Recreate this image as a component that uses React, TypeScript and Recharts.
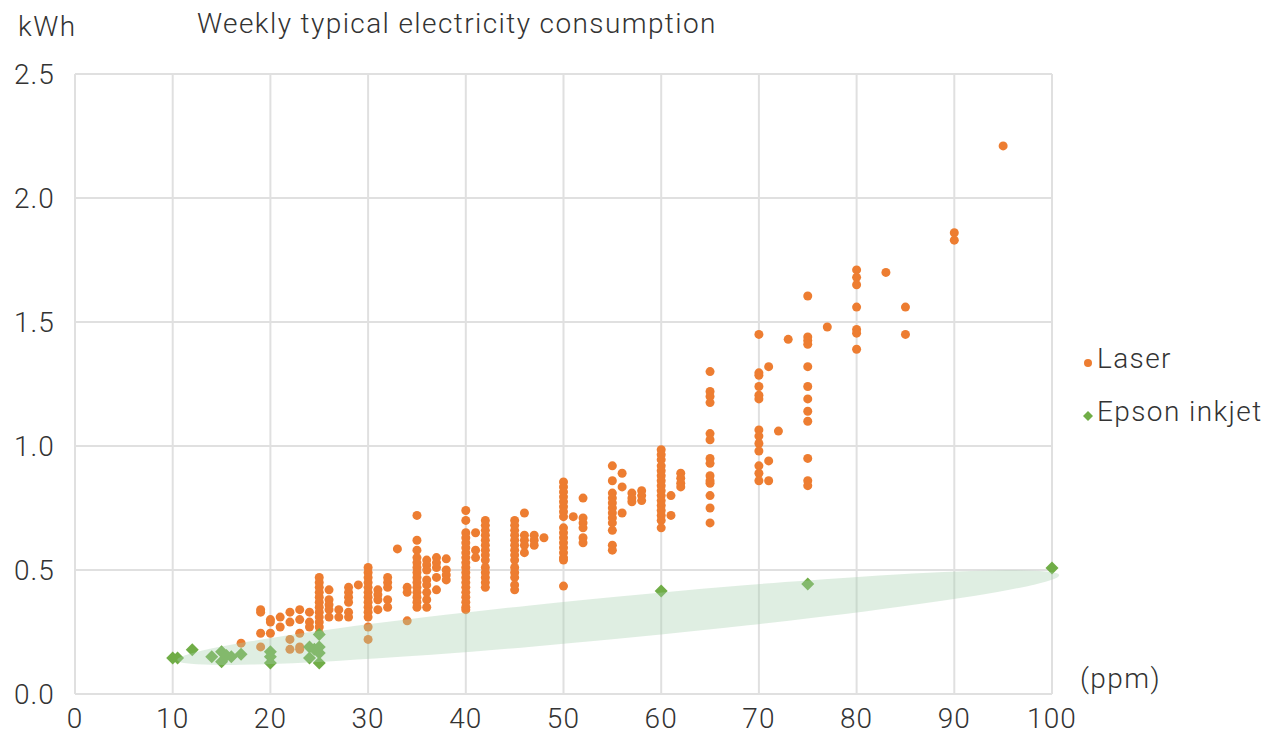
import { ScatterChart, Scatter, XAxis, YAxis, CartesianGrid } from 'recharts'

const FONT = 'Roboto, "Liberation Sans", sans-serif'

const xTicks = [0, 10, 20, 30, 40, 50, 60, 70, 80, 90, 100]
const yTicks = [0, 0.5, 1.0, 1.5, 2.0, 2.5]

// laser printers: [ppm, kWh values at that speed]
const laserLow: [number, number[]][] = [
  [17, [0.205]],
  [19, [0.34, 0.33, 0.245, 0.19]],
  [20, [0.3, 0.29, 0.245]],
  [21, [0.31, 0.27]],
  [22, [0.33, 0.29, 0.22, 0.18]],
  [23, [0.34, 0.3, 0.245, 0.19, 0.18]],
  [24, [0.33, 0.29, 0.27]],
  [25, [0.47, 0.45, 0.43, 0.41, 0.39, 0.37, 0.35, 0.33, 0.31, 0.29, 0.27, 0.245]],
  [26, [0.42, 0.38, 0.36, 0.34, 0.31]],
  [27, [0.34, 0.31]],
  [28, [0.43, 0.41, 0.39, 0.37, 0.33, 0.31]],
  [29, [0.44]],
  [30, [0.51, 0.49, 0.47, 0.45, 0.43, 0.41, 0.39, 0.37, 0.35, 0.33, 0.31, 0.27, 0.22]],
  [31, [0.42, 0.4, 0.38, 0.34]],
  [32, [0.47, 0.45, 0.43, 0.38, 0.35]],
  [33, [0.585]],
  [34, [0.43, 0.41, 0.295]],
  [35, [0.72, 0.62, 0.58, 0.55, 0.53, 0.51, 0.49, 0.47, 0.45, 0.43, 0.41, 0.39, 0.37, 0.35]],
  [36, [0.54, 0.52, 0.5, 0.46, 0.44, 0.41, 0.38, 0.35]],
  [37, [0.55, 0.53, 0.51, 0.47, 0.42]],
  [38, [0.545, 0.5, 0.48, 0.46]],
]

const laserMid: [number, number[]][] = [
  [40, [0.74, 0.7, 0.65, 0.63, 0.61, 0.59, 0.57, 0.55, 0.53, 0.51, 0.49, 0.47, 0.45, 0.43, 0.41, 0.39, 0.37, 0.35, 0.34]],
  [41, [0.65, 0.58, 0.55]],
  [42, [0.7, 0.68, 0.66, 0.64, 0.62, 0.6, 0.58, 0.56, 0.54, 0.51, 0.49, 0.47, 0.45, 0.43]],
  [45, [0.7, 0.68, 0.66, 0.64, 0.62, 0.6, 0.58, 0.56, 0.54, 0.51, 0.49, 0.47, 0.44, 0.42]],
  [46, [0.73, 0.64, 0.62, 0.6, 0.57]],
  [47, [0.64, 0.62, 0.6]],
  [48, [0.63]],
  [50, [0.855, 0.835, 0.815, 0.795, 0.775, 0.755, 0.735, 0.715, 0.67, 0.65, 0.63, 0.61, 0.59, 0.57, 0.55, 0.54, 0.435]],
  [51, [0.715]],
  [52, [0.79, 0.71, 0.69, 0.67, 0.63, 0.61]],
  [55, [0.92, 0.86, 0.81, 0.79, 0.77, 0.75, 0.73, 0.71, 0.69, 0.66, 0.6, 0.58]],
  [56, [0.89, 0.835, 0.73]],
  [57, [0.81, 0.79, 0.775]],
  [58, [0.82, 0.8, 0.78]],
  [60, [0.985, 0.965, 0.945, 0.92, 0.9, 0.88, 0.86, 0.84, 0.82, 0.8, 0.78, 0.76, 0.74, 0.72, 0.7, 0.67]],
  [61, [0.8, 0.72]],
  [62, [0.89, 0.87, 0.85, 0.835]],
]

const laserHigh: [number, number[]][] = [
  [65, [1.3, 1.22, 1.2, 1.175, 1.05, 1.025, 0.95, 0.93, 0.88, 0.86, 0.85, 0.8, 0.75, 0.69]],
  [70, [1.45, 1.295, 1.285, 1.24, 1.205, 1.19, 1.065, 1.04, 1.01, 0.98, 0.92, 0.89, 0.86]],
  [71, [1.32, 0.94, 0.86]],
  [72, [1.06]],
  [73, [1.43]],
  [75, [1.605, 1.44, 1.425, 1.41, 1.32, 1.24, 1.19, 1.14, 1.1, 0.95, 0.86, 0.84]],
  [77, [1.48]],
  [80, [1.71, 1.68, 1.65, 1.56, 1.47, 1.455, 1.39]],
  [83, [1.7]],
  [85, [1.56, 1.45]],
  [90, [1.86, 1.83]],
  [95, [2.21]],
]

const inkjetPpm = [10, 10.5, 12, 14, 15, 15, 15.5, 16, 17, 20, 20, 20, 24, 24, 24.5, 25, 25, 25, 25, 60, 75, 100]
const inkjetKwh = [0.145, 0.145, 0.178, 0.15, 0.17, 0.13, 0.155, 0.15, 0.16, 0.17, 0.15, 0.125, 0.19, 0.145, 0.18, 0.24, 0.19, 0.165, 0.125, 0.415, 0.444, 0.508]

// centre of the shaded inkjet zone
const inkjetZone = [{ ppm: 55.6, kwh: 0.308 }]

const laserData = [...laserLow, ...laserMid, ...laserHigh].flatMap(([ppm, vals]) =>
  vals.map((kwh) => ({ ppm, kwh }))
)
const inkjetData = inkjetPpm.map((ppm, i) => ({ ppm, kwh: inkjetKwh[i] }))

const ORANGE = '#ED7D31'
const GREEN = '#70AD47'
const GRID = '#e0e0e0'

const Dot = (props: any) => <circle cx={props.cx} cy={props.cy} r={4.5} fill={ORANGE} />

const Diamond = (props: any) => {
  const { cx, cy } = props
  const s = 6.5
  return <polygon points={`${cx},${cy - s} ${cx + s},${cy} ${cx},${cy + s} ${cx - s},${cy}`} fill={GREEN} />
}

const Zone = (props: any) => {
  const { cx, cy } = props
  return (
    <ellipse
      cx={cx}
      cy={cy}
      rx={443}
      ry={21}
      transform={`rotate(-5.5 ${cx} ${cy})`}
      fill="rgb(166,209,175)"
      fillOpacity={0.36}
    />
  )
}

const textStyle = {
  position: 'absolute' as const,
  fontFamily: FONT,
  fontWeight: 300,
  fontSize: 28,
  letterSpacing: 1.4,
  color: '#333',
  whiteSpace: 'nowrap' as const,
}

const tickStyle = { fontSize: 28, fill: '#333', fontFamily: FONT, fontWeight: 300, letterSpacing: 1.1 }

export default function App() {
  return (
    <div style={{ position: 'absolute', left: 0, top: 0, width: 1270, height: 736, background: '#fff' }}>
      <div style={{ ...textStyle, left: 18, top: 10 }}>kWh</div>
      <div style={{ ...textStyle, left: 197, top: 7 }}>Weekly typical electricity consumption</div>
      <div style={{ ...textStyle, left: 1080, top: 662 }}>(ppm)</div>

      <div style={{ ...textStyle, left: 1081, top: 342, display: 'flex', alignItems: 'center' }}>
        <svg width={14} height={14} style={{ marginTop: 8 }}>
          <circle cx={7} cy={7} r={4} fill={ORANGE} />
        </svg>
        <span style={{ marginLeft: 2 }}>Laser</span>
      </div>
      <div style={{ ...textStyle, left: 1081, top: 395, display: 'flex', alignItems: 'center' }}>
        <svg width={14} height={14} style={{ marginTop: 8 }}>
          <polygon points="7,2 12,7 7,12 2,7" fill={GREEN} />
        </svg>
        <span style={{ marginLeft: 2 }}>Epson inkjet</span>
      </div>

      <ScatterChart width={1270} height={736} margin={{ top: 74, right: 218, bottom: 0, left: 15 }}>
        <CartesianGrid stroke={GRID} strokeWidth={2} />
        <XAxis
          type="number"
          dataKey="ppm"
          domain={[0, 100]}
          ticks={xTicks}
          interval={0}
          height={42}
          tickSize={0}
          tickMargin={14}
          tickLine={false}
          axisLine={{ stroke: GRID, strokeWidth: 2 }}
          tick={tickStyle}
        />
        <YAxis
          type="number"
          dataKey="kwh"
          domain={[0, 2.5]}
          ticks={yTicks}
          interval={0}
          width={60}
          tickSize={0}
          tickMargin={20}
          tickLine={false}
          axisLine={{ stroke: GRID, strokeWidth: 2 }}
          tick={tickStyle}
          tickFormatter={(v: number) => v.toFixed(1)}
        />
        <Scatter name="Laser" data={laserData} shape={Dot} isAnimationActive={false} />
        <Scatter name="Epson inkjet" data={inkjetData} shape={Diamond} isAnimationActive={false} />
        <Scatter name="zone" data={inkjetZone} shape={Zone} legendType="none" isAnimationActive={false} />
      </ScatterChart>
    </div>
  )
}
